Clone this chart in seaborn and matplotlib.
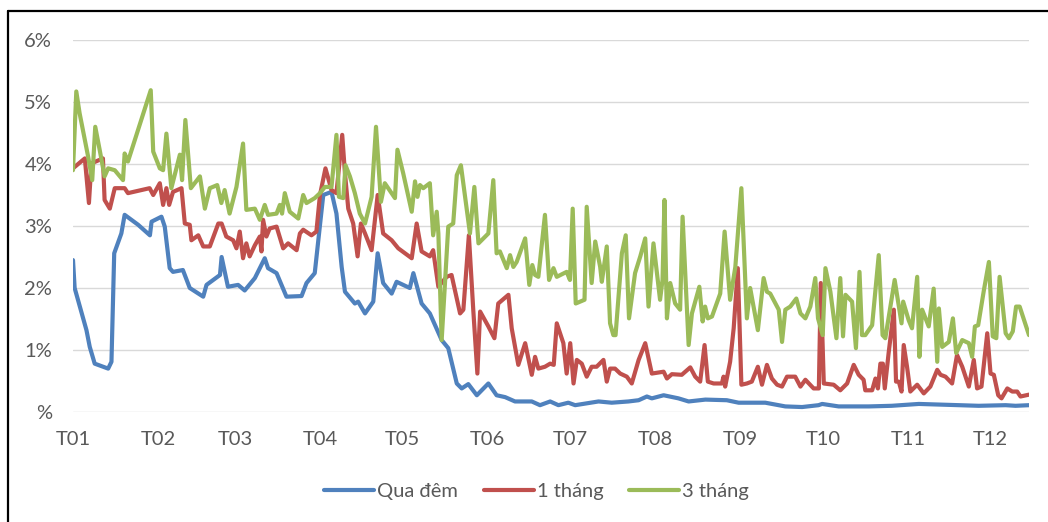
import pandas as pd
import seaborn as sns
import matplotlib.pyplot as plt
from matplotlib.lines import Line2D

# Lãi suất liên ngân hàng (%), ngày tính từ 01/01
ngay_qua_dem = [
    0, 0.6, 4.9, 6.1, 7.9, 12.8, 14.0, 15.0, 17.6, 18.8,
    23.7, 28.0, 28.6, 32.2, 33.4, 35.2, 36.4, 40.0, 42.5, 47.4,
    48.6, 53.5, 54.1, 56.4, 60.1, 62.5, 66.2, 69.8, 71.0, 74.1,
    77.7, 83.2, 85.0, 88.0, 89.3, 91.1, 94.1, 95.9, 97.8, 99.0,
    102.6, 103.8, 106.3, 109.3, 110.9, 112.9, 116.0, 117.8, 122.6, 123.9,
    126.9, 129.9, 134.2, 136.6, 139.7, 141.5, 143.9, 147.0, 151.2, 154.2,
    157.3, 160.9, 167.0, 170.0, 173.7, 176.7, 180.3, 182.8, 191.3, 196.1,
    202.2, 205.9, 208.9, 210.7, 215.0, 220.4, 224.1, 230.2, 238.0, 242.3,
    252.0, 259.3, 265.4, 271.4, 272.7, 278.7, 289.7, 298.0, 307.9, 322.5,
    329.7, 339.5, 343.1, 348.0]
qua_dem = [
    2.45, 2.0, 1.32, 1.05, 0.78, 0.70, 0.81, 2.56, 2.88, 3.18,
    3.02, 2.85, 3.07, 3.15, 2.99, 2.32, 2.26, 2.29, 2.0, 1.86,
    2.05, 2.21, 2.5, 2.02, 2.05, 1.96, 2.16, 2.48, 2.32, 2.24,
    1.86, 1.87, 2.08, 2.24, 2.77, 3.5, 3.55, 3.2, 2.34, 1.94,
    1.75, 1.78, 1.59, 1.78, 2.56, 2.08, 1.91, 2.1, 2.0, 2.24,
    1.75, 1.59, 1.16, 1.03, 0.46, 0.38, 0.45, 0.27, 0.46, 0.27,
    0.24, 0.17, 0.17, 0.11, 0.17, 0.11, 0.15, 0.11, 0.17, 0.15,
    0.17, 0.19, 0.25, 0.22, 0.27, 0.22, 0.17, 0.2, 0.19, 0.15,
    0.15, 0.09, 0.08, 0.11, 0.13, 0.09, 0.09, 0.1, 0.13, 0.11,
    0.1, 0.11, 0.1, 0.11]

ngay_1_thang = [
    0, 4.3, 5.8, 6.7, 10.9, 11.5, 13.4, 15.2, 18.8, 20.0,
    27.9, 29.2, 31.6, 32.8, 34.0, 35.0, 36.4, 39.5, 40.7, 42.5,
    43.1, 45.6, 47.4, 49.8, 52.9, 54.1, 55.8, 58.3, 59.5, 60.7,
    61.9, 63.1, 64.3, 66.2, 68.0, 68.6, 69.2, 70.4, 71.6, 74.1,
    76.5, 78.3, 81.4, 82.6, 83.8, 86.8, 88.6, 89.9, 91.9, 94.1,
    95.9, 98.0, 99.0, 100.2, 102.0, 103.6, 104.8, 106.3, 108.7, 110.9,
    112.9, 116.0, 118.4, 123.3, 125.1, 126.9, 129.9, 131.1, 133.0, 136.0,
    137.8, 140.9, 142.1, 144.1, 145.7, 147.2, 148.2, 151.2, 153.4, 154.8,
    158.5, 159.7, 162.1, 164.6, 167.0, 168.2, 169.4, 171.8, 173.7, 175.0,
    176.1, 178.5, 179.7, 181.0, 182.2, 183.4, 185.2, 187.0, 188.8, 190.6,
    193.1, 194.3, 195.5, 197.3, 199.2, 201.6, 203.4, 205.9, 208.3, 210.7,
    215.0, 216.2, 218.0, 221.6, 224.7, 226.5, 228.3, 229.9, 231.1, 233.2,
    236.2, 236.8, 237.4, 239.2, 240.5, 242.0, 243.3, 245.3, 247.1, 249.3,
    250.8, 252.6, 254.4, 256.3, 258.1, 259.9, 262.9, 264.8, 266.6, 269.6,
    271.5, 272.2, 273.3, 276.9, 279.3, 281.8, 284.2, 286.0, 287.8, 288.4,
    290.9, 292.1, 293.0, 293.9, 294.8, 295.5, 296.9, 298.8, 299.6, 300.6,
    301.6, 302.4, 303.6, 304.8, 307.3, 309.7, 312.1, 314.6, 315.8, 317.6,
    320.0, 321.8, 323.7, 326.1, 327.9, 329.1, 330.7, 332.8, 334.0, 335.2,
    336.8, 338.0, 340.1, 341.9, 343.7, 344.9, 348.0]
mot_thang = [
    3.93, 4.09, 3.37, 4.01, 4.09, 3.42, 3.28, 3.61, 3.61, 3.53,
    3.61, 3.5, 3.69, 3.34, 3.61, 3.34, 3.55, 3.61, 3.04, 3.02,
    2.77, 2.85, 2.67, 2.67, 3.04, 3.04, 2.83, 2.77, 2.64, 2.91,
    2.48, 2.72, 2.51, 2.69, 2.83, 2.59, 3.1, 2.83, 2.96, 2.99,
    2.64, 2.72, 2.61, 2.88, 2.94, 2.85, 2.91, 3.5, 3.93, 3.58,
    3.53, 4.47, 3.85, 3.28, 3.04, 2.51, 3.04, 2.88, 2.61, 3.5,
    2.88, 2.77, 2.64, 2.48, 3.04, 2.59, 2.51, 2.61, 2.02, 2.18,
    2.21, 1.59, 1.65, 2.85, 1.65, 0.62, 1.62, 1.38, 1.19, 1.75,
    1.89, 1.35, 0.76, 1.11, 0.6, 0.89, 0.7, 0.73, 0.78, 0.76,
    1.43, 1.11, 0.62, 1.11, 0.46, 0.84, 0.78, 0.57, 0.73, 0.73,
    0.84, 0.49, 0.7, 0.7, 0.62, 0.57, 0.46, 0.84, 1.11, 0.62,
    0.65, 0.54, 0.61, 0.6, 0.72, 0.57, 0.49, 1.08, 0.49, 0.46,
    0.46, 0.57, 0.41, 0.81, 1.35, 2.32, 0.44, 0.46, 0.49, 0.73,
    0.44, 0.76, 0.54, 0.44, 0.41, 0.57, 0.57, 0.41, 0.52, 0.38,
    0.38, 2.08, 0.46, 0.44, 0.35, 0.46, 0.76, 0.6, 0.52, 0.35,
    0.35, 0.54, 0.38, 0.78, 0.78, 0.38, 0.95, 1.65, 0.49, 0.49,
    0.33, 1.08, 0.73, 0.33, 0.44, 0.3, 0.41, 0.68, 0.6, 0.57,
    0.46, 0.92, 0.73, 0.41, 0.84, 0.38, 0.41, 1.27, 0.62, 0.6,
    0.27, 0.22, 0.38, 0.33, 0.33, 0.25, 0.28]

ngay_3_thang = [
    0, 1.2, 2.4, 5.5, 7.0, 8.1, 9.7, 11.5, 12.8, 15.2,
    18.2, 18.8, 20.0, 28.3, 29.2, 31.6, 32.8, 34.0, 35.8, 38.9,
    39.7, 40.9, 42.9, 46.2, 48.0, 49.8, 52.5, 54.0, 55.2, 57.0,
    59.5, 61.9, 63.1, 66.2, 68.0, 69.8, 71.0, 74.1, 75.3, 76.1,
    77.1, 78.9, 82.0, 83.8, 85.0, 88.0, 89.9, 91.7, 94.1, 95.9,
    96.8, 98.4, 99.2, 100.8, 102.6, 104.4, 106.3, 108.7, 110.3, 112.1,
    113.5, 117.2, 118.1, 120.2, 123.3, 124.5, 125.4, 126.3, 127.5, 129.9,
    131.1, 132.4, 133.0, 134.2, 136.6, 138.4, 139.7, 141.2, 144.5, 146.1,
    147.6, 151.2, 153.0, 154.2, 155.4, 157.9, 159.1, 160.3, 161.5, 164.6,
    166.1, 167.2, 168.2, 169.4, 171.8, 173.3, 174.9, 176.1, 179.7, 180.9,
    181.9, 183.0, 186.2, 187.0, 188.8, 190.1, 191.9, 192.5, 194.3, 195.5,
    196.7, 197.5, 199.8, 201.2, 202.4, 204.6, 206.5, 208.3, 209.5, 211.3,
    213.7, 214.6, 215.3, 216.2, 217.4, 219.2, 221.0, 221.9, 224.1, 225.3,
    228.0, 229.2, 230.1, 231.1, 232.6, 235.6, 237.2, 239.2, 241.1, 243.3,
    245.3, 246.5, 249.3, 251.4, 252.6, 253.8, 256.9, 258.1, 259.3, 261.1,
    263.3, 264.8, 266.6, 268.4, 270.2, 271.2, 272.9, 273.9, 275.7, 277.9,
    279.3, 280.3, 281.2, 283.6, 285.0, 286.3, 287.2, 288.4, 290.9, 293.3,
    294.7, 295.7, 299.1, 301.6, 302.2, 304.2, 305.4, 307.3, 308.1, 309.1,
    311.5, 313.3, 314.6, 315.2, 316.4, 318.8, 320.3, 321.5, 323.7, 326.1,
    327.3, 328.3, 329.5, 331.6, 333.4, 334.8, 336.1, 337.3, 339.5, 340.7,
    342.1, 343.3, 344.6, 348.0]
ba_thang = [
    3.9, 5.17, 4.82, 4.12, 3.74, 4.6, 4.23, 3.8, 3.93, 3.9,
    3.74, 4.17, 4.04, 5.19, 4.2, 3.93, 3.9, 4.49, 3.61, 4.15,
    3.74, 4.71, 3.61, 3.8, 3.28, 3.61, 3.66, 3.37, 3.58, 3.2,
    3.63, 4.33, 3.26, 3.28, 3.1, 3.34, 3.18, 3.2, 3.34, 3.2,
    3.53, 3.23, 3.12, 3.5, 3.37, 3.45, 3.53, 3.63, 3.63, 4.47,
    3.47, 3.45, 3.98, 3.8, 3.53, 3.2, 3.04, 3.47, 4.6, 3.39,
    3.69, 3.45, 4.23, 3.85, 3.23, 3.72, 3.47, 3.66, 3.61, 3.69,
    2.85, 3.23, 2.88, 1.16, 2.99, 3.04, 3.82, 3.98, 2.88, 3.63,
    2.72, 2.88, 3.74, 2.56, 2.59, 2.32, 2.53, 2.34, 2.42, 2.8,
    2.05, 2.37, 2.21, 2.18, 3.18, 2.13, 2.32, 2.18, 2.26, 2.13,
    3.28, 1.75, 1.81, 3.31, 2.08, 2.75, 2.34, 2.1, 2.67, 1.43,
    1.24, 1.24, 2.56, 2.85, 1.51, 2.24, 2.51, 2.8, 1.7, 2.72,
    1.81, 2.13, 3.42, 1.51, 2.08, 1.75, 1.65, 3.15, 1.08, 1.59,
    2.02, 1.46, 1.7, 1.51, 1.54, 1.91, 2.91, 1.81, 2.34, 3.61,
    1.51, 2.0, 1.32, 2.16, 1.94, 1.91, 1.65, 1.13, 1.65, 1.7,
    1.83, 1.59, 1.51, 1.7, 2.16, 1.51, 1.24, 2.32, 1.94, 1.19,
    2.16, 1.22, 1.89, 1.78, 1.03, 2.26, 1.24, 1.24, 1.4, 2.53,
    1.24, 1.19, 2.13, 1.43, 1.78, 1.48, 1.35, 2.18, 0.89, 1.65,
    1.38, 1.99, 0.81, 1.67, 1.05, 1.13, 1.51, 0.95, 1.16, 1.11,
    0.89, 1.38, 1.4, 1.97, 2.42, 1.22, 1.19, 2.18, 1.27, 1.19,
    1.3, 1.7, 1.7, 1.24]

ten_chuoi = ["Qua đêm", "1 tháng", "3 tháng"]
mau = ["#4F81BD", "#C0504D", "#9BBB59"]
nhan_thang = ["T01", "T02", "T03", "T04", "T05", "T06",
              "T07", "T08", "T09", "T10", "T11", "T12"]
nhan_y = ["%", "1%", "2%", "3%", "4%", "5%", "6%"]

goc = pd.Timestamp("2019-01-01")
bang = []
for ten, ngay, gia_tri in zip(ten_chuoi,
                              [ngay_qua_dem, ngay_1_thang, ngay_3_thang],
                              [qua_dem, mot_thang, ba_thang]):
    bang.append(pd.DataFrame({
        "ngay": goc + pd.to_timedelta(ngay, unit="D"),
        "lai_suat": gia_tri,
        "ky_han": ten,
    }))
df = pd.concat(bang, ignore_index=True)

sns.set_style("white")
plt.rcParams["font.family"] = ["Lato", "DejaVu Sans"]

fig, ax = plt.subplots(figsize=(10.48, 5.22), dpi=100)
fig.subplots_adjust(left=73 / 1048, right=1029 / 1048,
                    top=1 - 40 / 522, bottom=1 - 412 / 522)

sns.lineplot(data=df, x="ngay", y="lai_suat", hue="ky_han",
             hue_order=ten_chuoi, palette=mau, estimator=None,
             linewidth=3.0, ax=ax)
for line in ax.get_lines():
    line.set_solid_joinstyle("round")
    line.set_solid_capstyle("round")

ax.set_ylim(0, 6)
ax.set_yticks(range(7))
ax.set_yticklabels(nhan_y)
ax.set_xlim(df["ngay"].min(), df["ngay"].max())
ax.set_xticks(pd.date_range(goc, periods=12, freq="MS"))
ax.set_xticklabels(nhan_thang)
ax.set_xlabel("")
ax.set_ylabel("")

ax.yaxis.grid(True, color="#D9D9D9", linewidth=1.0)
ax.xaxis.grid(False)
ax.set_axisbelow(True)
for s in ax.spines.values():
    s.set_visible(False)
ax.tick_params(axis="both", length=0, labelsize=14.5, labelcolor="#595959")
ax.tick_params(axis="y", pad=15)
ax.tick_params(axis="x", pad=14)

handles, labels = ax.get_legend_handles_labels()
ax.get_legend().remove()
leg = fig.legend(handles, labels, loc="center", bbox_to_anchor=(0.512, 0.059),
                 ncol=3, frameon=False, fontsize=14.5, handlelength=2.5,
                 handletextpad=0.15, columnspacing=1.25)
for t in leg.get_texts():
    t.set_color("#595959")

# khung viền ngoài
fig.add_artist(Line2D([8 / 1048, 8 / 1048], [0, 1 - 11 / 522],
                      transform=fig.transFigure, color="black", linewidth=1.6))
fig.add_artist(Line2D([8 / 1048, 1], [1 - 11 / 522, 1 - 11 / 522],
                      transform=fig.transFigure, color="black", linewidth=1.6))

fig.savefig("out.png", dpi=100)
